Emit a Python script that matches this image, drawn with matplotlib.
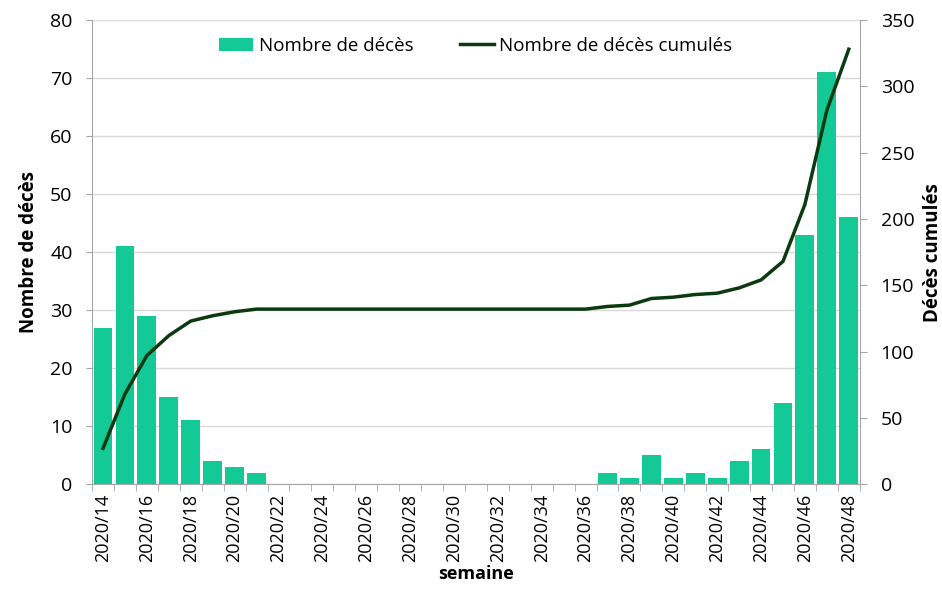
import matplotlib
matplotlib.use("Agg")
import matplotlib.pyplot as plt
import numpy as np

plt.rcParams['font.family'] = ['Open Sans', 'DejaVu Sans']

weeks = [f"2020/{w}" for w in range(14, 49)]
deces = [27, 41, 29, 15, 11, 4, 3, 2, 0, 0, 0, 0, 0, 0, 0, 0, 0, 0, 0, 0, 0, 0, 0,
         2, 1, 5, 1, 2, 1, 4, 6, 14, 43, 71, 46]
cumul = [27, 68, 97, 112, 123, 127, 130, 132, 132, 132, 132, 132, 132, 132, 132, 132,
         132, 132, 132, 132, 132, 132, 132, 134, 135, 140, 141, 143, 144, 148, 154,
         168, 211, 282, 328]

bar_color = '#13C996'
line_color = '#0B3A10'

fig = plt.figure(figsize=(9.42, 5.89), dpi=100)
ax = fig.add_axes([0.0977, 0.178, 0.815, 0.788])
x = np.arange(len(weeks))
ax.bar(x, deces, width=0.86, color=bar_color, label='Nombre de décès', zorder=2)
ax.set_ylim(0, 80)
ax.set_xlim(-0.5, len(weeks) - 0.5)
ax.set_yticks(range(0, 81, 10))
ax.yaxis.grid(True, color='#D9D9D9', linewidth=1, zorder=0)
ax.set_axisbelow(True)

ax.set_xticks(x[::2])
ax.set_xticklabels(weeks[::2], rotation=90, fontsize=13)
ax.set_xticks(np.arange(-0.5, len(weeks), 1), minor=True)
ax.tick_params(axis='x', which='major', length=0, pad=7)
ax.tick_params(axis='x', which='minor', length=5, color='#A6A6A6')
ax.tick_params(axis='y', labelsize=14, length=4, color='#A6A6A6', pad=10)

for s in ['top', 'right']:
    ax.spines[s].set_visible(False)
for s in ['left', 'bottom']:
    ax.spines[s].set_color('#A6A6A6')

ax2 = ax.twinx()
ax2.plot(x, cumul, color=line_color, linewidth=2.5, label='Nombre de décès cumulés', zorder=3)
ax2.set_ylim(0, 350)
ax2.set_yticks(range(0, 351, 50))
ax2.tick_params(axis='y', labelsize=14, length=5, color='#A6A6A6', pad=10)
for s in ['top', 'left', 'bottom']:
    ax2.spines[s].set_visible(False)
ax2.spines['right'].set_color('#A6A6A6')

ax.set_ylabel('Nombre de décès', fontsize=13.5, fontweight='bold', labelpad=8)
ax2.set_ylabel('Décès cumulés', fontsize=13.5, fontweight='bold', labelpad=6)
ax.set_xlabel('semaine', fontsize=13, fontweight='bold', labelpad=2)

h1, l1 = ax.get_legend_handles_labels()
h2, l2 = ax2.get_legend_handles_labels()
ax2.legend(h1 + h2, l1 + l2, loc='upper center', bbox_to_anchor=(0.5, 1.0), ncol=2,
           frameon=False, fontsize=13.5, handlelength=1.8, columnspacing=2.5, handletextpad=0.3)

fig.savefig('out.png', dpi=100)
